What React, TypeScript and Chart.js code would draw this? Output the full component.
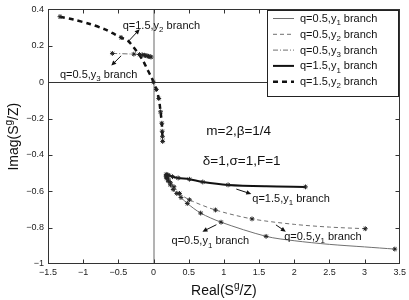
import React, { useEffect, useRef } from "react";
import { Chart, registerables } from "chart.js";

Chart.register(...registerables);

const FONT = "'Liberation Sans', Arial, Helvetica, sans-serif";

// ---- axis ticks ----
const xTicks = [-1.5, -1, -0.5, 0, 0.5, 1, 1.5, 2, 2.5, 3, 3.5];
const yTicks = [-1, -0.8, -0.6, -0.4, -0.2, 0, 0.2, 0.4];

// ---- series labels ----
const seriesNames = [
  "q=0.5,y_1 branch",
  "q=0.5,y_2 branch",
  "q=0.5,y_3 branch",
  "q=1.5,y_1 branch",
  "q=1.5,y_2 branch",
];

// ---- data ----
const q05y1X = [0.18, 0.19, 0.21, 0.24, 0.28, 0.33, 0.39, 0.48, 0.67, 0.96, 1.6, 2.0, 2.5, 3.0, 3.43];
const q05y1Y = [-0.52, -0.53, -0.545, -0.565, -0.59, -0.612, -0.634, -0.667, -0.72, -0.77, -0.848, -0.872, -0.892, -0.906, -0.918];
const q05y1Mark = [1, 1, 1, 1, 1, 1, 1, 1, 1, 1, 1, 0, 0, 0, 1];

const q05y2X = [0.18, 0.19, 0.21, 0.24, 0.29, 0.37, 0.51, 0.88, 1.4, 2.0, 2.5, 3.01];
const q05y2Y = [-0.515, -0.525, -0.538, -0.553, -0.575, -0.612, -0.647, -0.703, -0.752, -0.782, -0.797, -0.806];
const q05y2Mark = [1, 1, 1, 1, 1, 1, 1, 1, 1, 0, 0, 1];

const q05y3X = [-0.585, -0.28, -0.2, -0.16, -0.13, -0.11, -0.09, -0.07, -0.05, -0.035];
const q05y3Y = [0.158, 0.154, 0.152, 0.15, 0.148, 0.146, 0.144, 0.142, 0.14, 0.138];
const q05y3Mark = [1, 1, 1, 1, 1, 1, 1, 1, 1, 1];

const q15y1X = [0.18, 0.2, 0.22, 0.27, 0.35, 0.51, 0.7, 1.06, 1.6, 2.16];
const q15y1Y = [-0.507, -0.51, -0.513, -0.52, -0.527, -0.534, -0.549, -0.565, -0.573, -0.576];
const q15y1Mark = [1, 1, 1, 1, 1, 1, 1, 1, 0, 1];

const q15y2X = [-1.33, -1.14, -0.906, -0.69, -0.55, -0.46, -0.36, -0.245, -0.15, -0.08, -0.03, 0, 0.04, 0.075, 0.1, 0.118, 0.123, 0.127, 0.13];
const q15y2Y = [0.36, 0.344, 0.32, 0.29, 0.263, 0.245, 0.226, 0.172, 0.118, 0.064, 0.027, 0, -0.04, -0.09, -0.163, -0.226, -0.27, -0.3, -0.326];
const q15y2Mark = [1, 0, 0, 0, 0, 1, 0, 0, 0, 0, 0, 1, 1, 1, 1, 1, 1, 1, 1];

// ---- styles ----
const GRAY = "#707070";
const styles = [
  { color: GRAY, width: 1, dash: [] as number[] },
  { color: GRAY, width: 1, dash: [4, 3] },
  { color: GRAY, width: 1, dash: [5, 2, 1, 2] },
  { color: "#111", width: 2, dash: [] as number[] },
  { color: "#111", width: 2.5, dash: [5, 4] },
];

// ---- annotations (data coordinates) ----
const annotations = [
  { text: "q=1.5,y_2 branch", x: -0.438, y: 0.313, ax0: -0.353, ay0: 0.226, ax1: -0.197, ay1: 0.291 },
  { text: "q=0.5,y_3 branch", x: -1.33, y: 0.045, ax0: -0.46, ay0: 0.145, ax1: -0.6, ay1: 0.091 },
  { text: "q=1.5,y_1 branch", x: 1.404, y: -0.636, ax0: 1.177, ay0: -0.588, ax1: 1.39, ay1: -0.615 },
  { text: "q=0.5,y_1 branch", x: 1.857, y: -0.845, ax0: 1.74, ay0: -0.785, ax1: 1.88, ay1: -0.822 },
  { text: "q=0.5,y_1 branch", x: 0.256, y: -0.87, ax0: 0.894, ay0: -0.784, ax1: 0.695, ay1: -0.822 },
];
const paramTexts = [
  { text: "m=2,\u03b2=1/4", x: 0.75, y: -0.262 },
  { text: "\u03b4=1,\u03c3=1,F=1", x: 0.7, y: -0.428 },
];

const fmt = (v: number) => {
  const r = Math.round(v * 10) / 10;
  return r === 0 ? "0" : String(r).replace("-", "\u2212");
};

type Seg = { t: string; k: "n" | "sub" | "sup" };
function parseRich(s: string): Seg[] {
  const out: Seg[] = [];
  let buf = "";
  for (let i = 0; i < s.length; i++) {
    const c = s[i];
    if ((c === "_" || c === "^") && i + 1 < s.length) {
      if (buf) out.push({ t: buf, k: "n" });
      buf = "";
      out.push({ t: s[i + 1], k: c === "_" ? "sub" : "sup" });
      i++;
    } else buf += c;
  }
  if (buf) out.push({ t: buf, k: "n" });
  return out;
}

function drawRich(ctx: CanvasRenderingContext2D, s: string, x: number, y: number, size: number, align: "left" | "center" = "left") {
  const segs = parseRich(s);
  const small = size * 0.72;
  const widths = segs.map((g) => {
    ctx.font = `${g.k === "n" ? size : small}px ${FONT}`;
    return ctx.measureText(g.t).width;
  });
  const total = widths.reduce((a, b) => a + b, 0);
  let cx = align === "center" ? x - total / 2 : x;
  ctx.textBaseline = "alphabetic";
  ctx.textAlign = "left";
  const base = y + size * 0.36;
  segs.forEach((g, i) => {
    ctx.font = `${g.k === "n" ? size : small}px ${FONT}`;
    const dy = g.k === "sub" ? size * 0.3 : g.k === "sup" ? -size * 0.42 : 0;
    ctx.fillText(g.t, cx, base + dy);
    cx += widths[i];
  });
  return total;
}

function arrow(ctx: CanvasRenderingContext2D, x0: number, y0: number, x1: number, y1: number) {
  const ang = Math.atan2(y1 - y0, x1 - x0);
  const hl = 5, hw = 2.3;
  ctx.beginPath();
  ctx.moveTo(x0, y0);
  ctx.lineTo(x1 - Math.cos(ang) * hl * 0.8, y1 - Math.sin(ang) * hl * 0.8);
  ctx.stroke();
  ctx.beginPath();
  ctx.moveTo(x1, y1);
  ctx.lineTo(x1 - Math.cos(ang) * hl - Math.sin(ang) * hw, y1 - Math.sin(ang) * hl + Math.cos(ang) * hw);
  ctx.lineTo(x1 - Math.cos(ang) * hl + Math.sin(ang) * hw, y1 - Math.sin(ang) * hl - Math.cos(ang) * hw);
  ctx.closePath();
  ctx.fill();
}

const decor = {
  id: "decor",
  beforeDatasetsDraw(chart: any) {
    const { ctx, chartArea: a, scales } = chart;
    const xs = scales.x, ys = scales.y;
    ctx.save();
    const x0 = Math.round(xs.getPixelForValue(0));
    ctx.strokeStyle = "#a0a0a0";
    ctx.lineWidth = 1.6;
    ctx.beginPath();
    ctx.moveTo(x0, a.top);
    ctx.lineTo(x0, a.bottom);
    ctx.stroke();
    const y0 = Math.round(ys.getPixelForValue(0)) + 0.5;
    ctx.strokeStyle = "#333";
    ctx.lineWidth = 1;
    ctx.beginPath();
    ctx.moveTo(a.left, y0);
    ctx.lineTo(a.right, y0);
    ctx.stroke();
    ctx.restore();
  },
  afterDatasetsDraw(chart: any) {
    const { ctx, chartArea: a, scales } = chart;
    const xs = scales.x, ys = scales.y;
    ctx.save();
    // frame
    ctx.strokeStyle = "#333";
    ctx.lineWidth = 1;
    const L = Math.round(a.left) + 0.5, R = Math.round(a.right) - 0.5;
    const T = Math.round(a.top) + 0.5, B = Math.round(a.bottom) - 0.5;
    ctx.strokeRect(L, T, R - L, B - T);
    // inward ticks
    const tl = 4;
    ctx.beginPath();
    xTicks.forEach((v) => {
      const p = Math.round(xs.getPixelForValue(v)) + 0.5;
      if (p <= L + 1 || p >= R - 1) return;
      ctx.moveTo(p, B); ctx.lineTo(p, B - tl);
      ctx.moveTo(p, T); ctx.lineTo(p, T + tl);
    });
    yTicks.forEach((v) => {
      const p = Math.round(ys.getPixelForValue(v)) + 0.5;
      if (p <= T + 1 || p >= B - 1) return;
      ctx.moveTo(L, p); ctx.lineTo(L + tl, p);
      ctx.moveTo(R, p); ctx.lineTo(R - tl, p);
    });
    ctx.stroke();

    // annotations
    ctx.fillStyle = "#111";
    ctx.strokeStyle = "#111";
    ctx.lineWidth = 1;
    annotations.forEach((an) => {
      drawRich(ctx, an.text, xs.getPixelForValue(an.x), ys.getPixelForValue(an.y), 11);
      arrow(ctx, xs.getPixelForValue(an.ax0), ys.getPixelForValue(an.ay0), xs.getPixelForValue(an.ax1), ys.getPixelForValue(an.ay1));
    });
    paramTexts.forEach((p) => {
      drawRich(ctx, p.text, xs.getPixelForValue(p.x), ys.getPixelForValue(p.y), 13.5);
    });

    // legend
    const lx = 267.5, ly = 10.5, lw = 131, lh = 86;
    ctx.fillStyle = "#fff";
    ctx.fillRect(lx, ly, lw, lh);
    ctx.strokeStyle = "#222";
    ctx.lineWidth = 1;
    ctx.setLineDash([]);
    ctx.strokeRect(lx, ly, lw, lh);
    seriesNames.forEach((name, i) => {
      const ry = 18.5 + i * 15.8;
      const st = styles[i];
      ctx.strokeStyle = st.color;
      ctx.lineWidth = st.width;
      ctx.setLineDash(st.dash);
      ctx.beginPath();
      ctx.moveTo(273, ry);
      ctx.lineTo(294, ry);
      ctx.stroke();
      ctx.setLineDash([]);
      ctx.fillStyle = "#111";
      drawRich(ctx, name, 300, ry - 0.5, 11);
    });

    // axis titles
    ctx.fillStyle = "#111";
    drawRich(ctx, "Real(S^g/Z)", (a.left + a.right) / 2, 290, 14, "center");
    ctx.translate(13, (a.top + a.bottom) / 2);
    ctx.rotate(-Math.PI / 2);
    drawRich(ctx, "Imag(S^g/Z)", 0, 0, 14, "center");
    ctx.restore();
  },
};

function mk(label: string, xs: number[], ys: number[], marks: number[], i: number) {
  const st = styles[i];
  return {
    label,
    data: xs.map((x, k) => ({ x, y: ys[k] })),
    showLine: true,
    borderColor: st.color,
    borderWidth: st.width,
    borderDash: st.dash,
    tension: 0.3,
    fill: false,
    pointStyle: "star",
    pointRadius: marks.map((m) => (m ? 2.4 : 0)),
    pointBorderColor: "#222",
    pointBackgroundColor: "#222",
    pointBorderWidth: 1,
  };
}

export default function App() {
  const ref = useRef<HTMLCanvasElement | null>(null);
  useEffect(() => {
    document.body.style.margin = "0";
    const canvas = ref.current!;
    const chart = new Chart(canvas, {
      type: "scatter",
      data: {
        datasets: [
          mk(seriesNames[0], q05y1X, q05y1Y, q05y1Mark, 0),
          mk(seriesNames[1], q05y2X, q05y2Y, q05y2Mark, 1),
          mk(seriesNames[2], q05y3X, q05y3Y, q05y3Mark, 2),
          mk(seriesNames[3], q15y1X, q15y1Y, q15y1Mark, 3),
          mk(seriesNames[4], q15y2X, q15y2Y, q15y2Mark, 4),
        ] as any,
      },
      options: {
        responsive: false,
        animation: false,
        devicePixelRatio: 1,
        layout: { padding: { top: 6, right: 8, left: 0, bottom: 0 } },
        plugins: { legend: { display: false }, tooltip: { enabled: false } },
        scales: {
          x: {
            type: "linear",
            min: -1.5,
            max: 3.5,
            afterBuildTicks: (s: any) => { s.ticks = xTicks.map((v) => ({ value: v })); },
            afterFit: (s: any) => { s.height = 36; },
            grid: { display: false, drawTicks: false },
            border: { display: false },
            ticks: { font: { size: 9, family: FONT }, color: "#222", padding: 3, autoSkip: false, maxRotation: 0, callback: (v: any) => fmt(Number(v)) },
          },
          y: {
            type: "linear",
            min: -1,
            max: 0.4,
            afterBuildTicks: (s: any) => { s.ticks = yTicks.map((v) => ({ value: v })); },
            afterFit: (s: any) => { s.width = 48; },
            grid: { display: false, drawTicks: false },
            border: { display: false },
            ticks: { font: { size: 9, family: FONT }, color: "#222", padding: 4, autoSkip: false, callback: (v: any) => fmt(Number(v)) },
          },
        },
      } as any,
      plugins: [decor],
    });
    return () => chart.destroy();
  }, []);
  return <canvas ref={ref} width={409} height={300} style={{ display: "block" }} />;
}
